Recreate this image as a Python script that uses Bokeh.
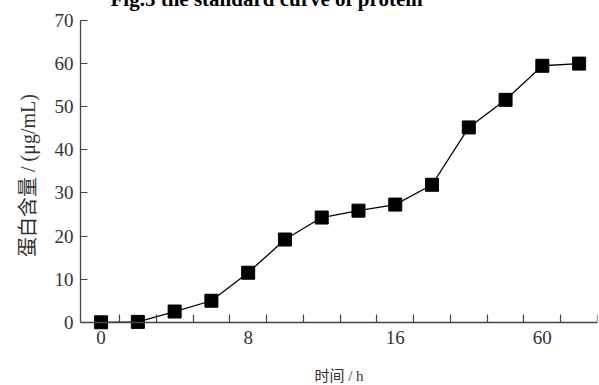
from bokeh.plotting import figure
from bokeh.models import Range1d, FixedTicker, LinearAxis
from bokeh.embed import file_html
from bokeh.resources import INLINE

# ---- data ----
time_index = list(range(14))
protein = [0.0, 0.1, 2.5, 5.0, 11.5, 19.2, 24.3, 25.9, 27.3, 31.9, 45.2, 51.6, 59.5, 60.0]
x_tick_positions = [0, 4, 8, 12]
x_tick_labels = ["0", "8", "16", "60"]
y_ticks = [0, 10, 20, 30, 40, 50, 60, 70]
title_text = "Fig.5 the standard curve of protein"
x_title = "时间 / h"
y_title = "蛋白含量 / (μg/mL)"

SERIF = "Liberation Serif, Noto Sans CJK SC"
AXIS_COLOR = "#444444"
TEXT_COLOR = "#333333"

W, H = 599, 447
p = figure(width=W, height=H, output_backend="svg", toolbar_location=None,
           x_range=Range1d(-0.56, 13.5), y_range=Range1d(-1.9, 70),
           min_border_left=80, min_border_right=2, min_border_top=75, min_border_bottom=62)
p.margin = (-55, 0, -19, 0)
p.outline_line_color = None
p.grid.visible = False

# title (cropped at the top edge in the reference)
p.title.text = title_text
p.title.align = "left"
p.title.offset = 30
p.title.standoff = 20
p.title.text_font = "Liberation Serif"
p.title.text_font_size = "21px"
p.title.text_font_style = "bold"
p.title.text_color = "black"

p.line(time_index, protein, line_color="black", line_width=1.3)
p.scatter(time_index, protein, marker="square", size=13, fill_color="black", line_color="black")

# x axis tick labels and title (at frame bottom, no line / ticks)
xa = p.xaxis[0]
xa.ticker = FixedTicker(ticks=x_tick_positions, minor_ticks=[])
xa.major_label_overrides = {t: l for t, l in zip(x_tick_positions, x_tick_labels)}
xa.axis_line_color = None
xa.major_tick_line_color = None
xa.minor_tick_line_color = None
xa.major_tick_in = 0
xa.major_tick_out = 0
xa.major_label_standoff = 0
xa.major_label_text_font = SERIF
xa.major_label_text_font_size = "19px"
xa.major_label_text_color = TEXT_COLOR
xa.axis_label = x_title
xa.axis_label_text_font = SERIF
xa.axis_label_text_font_size = "15px"
xa.axis_label_text_font_style = "normal"
xa.axis_label_text_color = TEXT_COLOR
xa.axis_label_standoff = 21

# x axis line with its tick marks, drawn at y = 0
x_line = LinearAxis(fixed_location=0,
                    ticker=FixedTicker(ticks=[], minor_ticks=[i + 0.5 for i in time_index]))
x_line.axis_line_color = AXIS_COLOR
x_line.axis_line_width = 1.3
x_line.major_tick_line_color = None
x_line.major_tick_in = 0
x_line.major_tick_out = 0
x_line.minor_tick_in = 0
x_line.minor_tick_out = 8
x_line.minor_tick_line_color = AXIS_COLOR
x_line.minor_tick_line_width = 1.2
x_line.major_label_text_font_size = "0px"
p.add_layout(x_line, "above")

# y axis
ya = p.yaxis[0]
ya.ticker = FixedTicker(ticks=y_ticks, minor_ticks=[])
ya.bounds = (0, 70)
ya.major_tick_in = 7
ya.major_tick_out = 0
ya.major_tick_line_color = AXIS_COLOR
ya.major_tick_line_width = 1.2
ya.minor_tick_line_color = None
ya.axis_line_color = AXIS_COLOR
ya.axis_line_width = 1.3
ya.major_label_standoff = 7
ya.major_label_text_font = SERIF
ya.major_label_text_font_size = "19px"
ya.major_label_text_color = TEXT_COLOR
ya.axis_label = y_title
ya.axis_label_text_font = SERIF
ya.axis_label_text_font_size = "20px"
ya.axis_label_text_font_style = "normal"
ya.axis_label_text_color = TEXT_COLOR
ya.axis_label_standoff = 13

open("out.html", "w").write(file_html(p, INLINE))
